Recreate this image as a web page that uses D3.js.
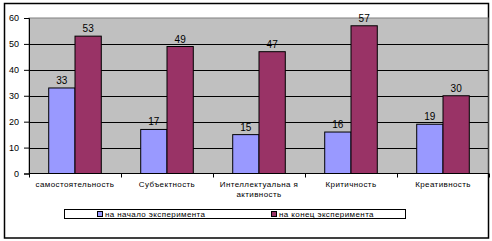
<!DOCTYPE html>
<html><head><meta charset="utf-8">
<script src="https://cdn.jsdelivr.net/npm/d3@7"></script>
<style>body{margin:0;background:#fff}svg{display:block}text{font-family:"Liberation Sans",Arial,sans-serif;fill:#000}</style>
</head><body>
<script>
const categories = [["самостоятельность"],["Субъектность"],["Интеллектуальна я","активность"],["Критичность"],["Креативность"]];
const seriesNames = ["на начало эксперимента","на конец эксперимента"];
const startValues = [33,17,15,16,19];
const endValues = [53,49,47,57,30];
const yTicks = [0,10,20,30,40,50,60];
const colors = ["#9999FF","#993366"];

const W=492,H=241;
const svg=d3.select("body").append("svg").attr("width",W).attr("height",H);
svg.append("rect").attr("x",4.5).attr("y",3.5).attr("width",484).attr("height",234.5).attr("fill","#fff").attr("stroke","#000").attr("stroke-width",1.5);

const L=29,R=488,T=18,B=173.5;
const idx=d3.range(categories.length);
const x=d3.scaleBand().domain(idx).range([L,L+92*5]).paddingInner(0).paddingOuter(0);
const x1=d3.scaleBand().domain([0,1]).range([0,x.bandwidth()]).paddingInner(0).paddingOuter(0.75);
const y=d3.scaleLinear().domain([0,60]).range([B,T]);

svg.append("rect").attr("x",L).attr("y",T).attr("width",R-L).attr("height",B-T).attr("fill","#C0C0C0").attr("stroke","#808080").attr("stroke-width",1);
// gridlines
svg.append("g").selectAll("line").data(yTicks.filter(d=>d>0&&d<60)).join("line")
 .attr("x1",L).attr("x2",R).attr("y1",d=>Math.round(y(d))+0.5).attr("y2",d=>Math.round(y(d))+0.5).attr("stroke","#000");

const data=idx.map(i=>[startValues[i],endValues[i]]);
const g=svg.append("g").selectAll("g").data(data).join("g").attr("transform",(d,i)=>`translate(${x(i)},0)`);
g.selectAll("rect").data(d=>d).join("rect")
 .attr("x",(d,j)=>x1(j)).attr("width",x1.bandwidth())
 .attr("y",d=>y(d)).attr("height",d=>B-y(d))
 .attr("fill",(d,j)=>colors[j]).attr("stroke","#000").attr("stroke-width",1);
g.selectAll("text").data(d=>d).join("text")
 .attr("x",(d,j)=>x1(j)+x1.bandwidth()/2).attr("y",d=>y(d)-4)
 .attr("text-anchor","middle").attr("font-size","10px").text(d=>d);

// y axis
const ya=svg.append("g").attr("transform",`translate(${L},0)`).call(d3.axisLeft(y).tickValues(yTicks).tickSize(5).tickPadding(5));
ya.select(".domain").attr("stroke","#000");
ya.selectAll("text").attr("font-size","9px").attr("font-family","Liberation Sans, Arial, sans-serif").attr("fill","#000");
// x axis
const xa=svg.append("g").attr("transform",`translate(0,${B})`);
xa.append("line").attr("x1",L).attr("x2",R+1).attr("y1",0).attr("y2",0).attr("stroke","#000");
xa.selectAll("line.t").data(d3.range(6)).join("line").attr("class","t")
 .attr("x1",i=>Math.round(L+92*i)+0.5).attr("x2",i=>Math.round(L+92*i)+0.5).attr("y1",0).attr("y2",4).attr("stroke","#000");
xa.selectAll("text").data(categories).join("text")
 .attr("x",(d,i)=>x(i)+x.bandwidth()/2).attr("y",13.5).attr("text-anchor","middle").attr("font-size","8px").attr("letter-spacing","0.4px")
 .each(function(d){d3.select(this).selectAll("tspan").data(d).join("tspan").attr("x",d3.select(this).attr("x")).attr("dy",(t,k)=>k?10:0).text(t=>t);});

// legend
const lg=svg.append("g");
lg.append("rect").attr("x",64.5).attr("y",209.5).attr("width",341).attr("height",9).attr("fill","#fff").attr("stroke","#000");
const lx=[97,271];
seriesNames.forEach((n,i)=>{
 lg.append("rect").attr("x",lx[i]+0.5).attr("y",211.5).attr("width",5).attr("height",5).attr("fill",colors[i]).attr("stroke","#000");
 lg.append("text").attr("x",lx[i]+8).attr("y",217).attr("font-size","8px").attr("letter-spacing","0.4px").text(n);
});
</script>
</body></html>
